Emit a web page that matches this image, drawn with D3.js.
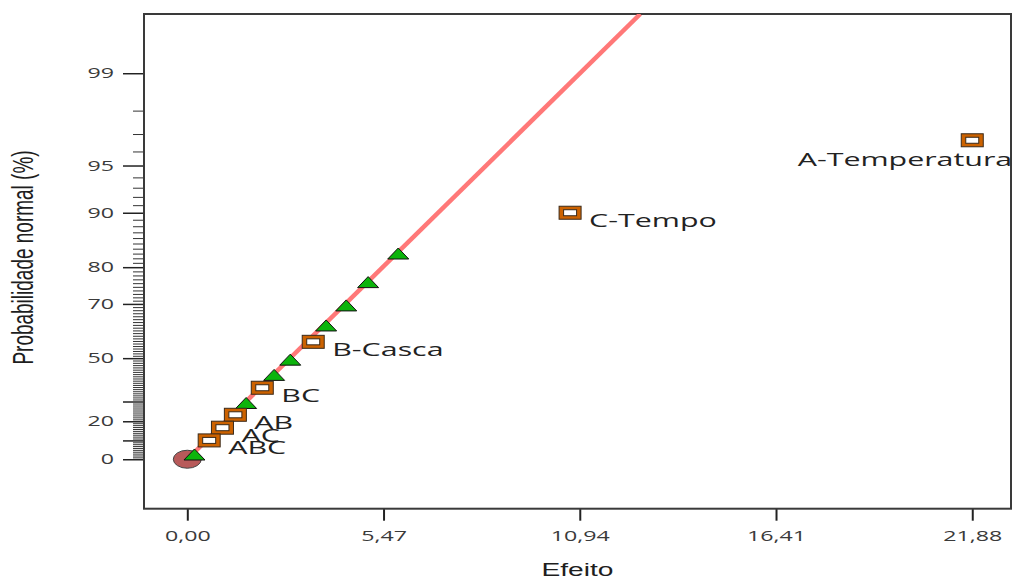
<!DOCTYPE html>
<html>
<head>
<meta charset="utf-8">
<script src="https://cdn.jsdelivr.net/npm/d3@7"></script>
<style>
  html, body { margin: 0; padding: 0; background: #fff; }
  svg { display: block; }
</style>
</head>
<body>
<div id="viz"></div>
<script>
// significant terms (squares with labels): |effect| and half-normal % probability
var termLabels  = ["A-Temperatura", "C-Tempo", "B-Casca", "BC", "AB", "AC", "ABC"];
var termEffects = [21.88, 10.67, 3.51, 2.09, 1.34, 0.98, 0.61];
var termProbs   = [96.67, 90.0, 56.67, 36.67, 23.33, 16.67, 10.0];

// error estimates (green triangles)
var errorEffects = [0.20, 1.64, 2.42, 2.87, 3.87, 4.43, 5.04, 5.88];
var errorProbs   = [3.33, 30.0, 43.33, 50.0, 63.33, 70.0, 76.67, 83.33];

// axis ticks
var xTicks = [0, 5.47, 10.94, 16.41, 21.88];
var yMajorTicks = [0, 10, 20, 30, 50, 70, 80, 90, 95, 99];
var yTickLabels = ["0", "", "20", "", "50", "70", "80", "90", "95", "99"];

// fitted line through the error terms: effect per half-normal score
var fitSlope = 4.25;

var width = 1016, height = 579;
var frame = {left: 144, right: 1011, top: 14, bottom: 508.7};
var SX = 1.6;   // the whole picture is stretched horizontally

// inverse normal cdf (Acklam's approximation)
function qnorm(p) {
  var a = [-3.969683028665376e+01, 2.209460984245205e+02, -2.759285104469687e+02, 1.383577518672690e+02, -3.066479806614716e+01, 2.506628277459239e+00];
  var b = [-5.447609879822406e+01, 1.615858368580409e+02, -1.556989798598866e+02, 6.680131188771972e+01, -1.328068155288572e+01];
  var c = [-7.784894002430293e-03, -3.223964580411365e-01, -2.400758277161838e+00, -2.549732539343734e+00, 4.374664141464968e+00, 2.938163982698783e+00];
  var d = [7.784695709041462e-03, 3.224671290700398e-01, 2.445134137142996e+00, 3.754408661907416e+00];
  var pl = 0.02425, q, r;
  if (p < pl) {
    q = Math.sqrt(-2 * Math.log(p));
    return (((((c[0]*q+c[1])*q+c[2])*q+c[3])*q+c[4])*q+c[5]) / ((((d[0]*q+d[1])*q+d[2])*q+d[3])*q+1);
  }
  if (p <= 1 - pl) {
    q = p - 0.5; r = q * q;
    return (((((a[0]*r+a[1])*r+a[2])*r+a[3])*r+a[4])*r+a[5])*q / (((((b[0]*r+b[1])*r+b[2])*r+b[3])*r+b[4])*r+1);
  }
  q = Math.sqrt(-2 * Math.log(1 - p));
  return -(((((c[0]*q+c[1])*q+c[2])*q+c[3])*q+c[4])*q+c[5]) / ((((d[0]*q+d[1])*q+d[2])*q+d[3])*q+1);
}
// half-normal score for a percentage
function hn(pct) { return qnorm(0.5 + pct / 200); }

var x = d3.scaleLinear().domain([-1.207, 22.96]).range([frame.left, frame.right]);
var y = d3.scaleLinear().domain([-0.33, 2.971]).range([frame.bottom, frame.top]);

var svg = d3.select('#viz').append('svg')
  .attr('width', width).attr('height', height);

svg.append('defs').append('clipPath').attr('id', 'plotclip')
  .append('rect')
  .attr('x', frame.left).attr('y', frame.top)
  .attr('width', frame.right - frame.left).attr('height', frame.bottom - frame.top);

// minor y ticks: every whole percent
var minorProbs = d3.range(1, 99).filter(function(p) { return yMajorTicks.indexOf(p) < 0; });
svg.append('g')
  .attr('transform', 'translate(' + frame.left + ',0)')
  .call(d3.axisLeft(y).tickValues(minorProbs.map(hn)).tickSize(11).tickFormat(''))
  .call(function(g) {
    g.select('.domain').remove();
    g.selectAll('line').attr('stroke', '#333').attr('stroke-width', 1);
  });

// major y ticks
svg.append('g')
  .attr('transform', 'translate(' + frame.left + ',0)')
  .call(d3.axisLeft(y).tickValues(yMajorTicks.map(hn)).tickSize(21)
    .tickFormat(function(d, i) { return yTickLabels[i]; }))
  .call(function(g) {
    g.select('.domain').remove();
    g.selectAll('line').attr('stroke', '#222').attr('stroke-width', 1.5);
    g.selectAll('text')
      .attr('x', 0)
      .attr('transform', 'translate(-30,0) scale(' + SX + ',1)')
      .attr('fill', '#3a3a3a')
      .style('font-family', '"Open Sans", sans-serif')
      .style('font-size', '14.5px');
  });

// x axis
svg.append('g')
  .attr('transform', 'translate(0,' + frame.bottom + ')')
  .call(d3.axisBottom(x).tickValues(xTicks).tickSize(12)
    .tickFormat(function(d) { return d.toFixed(2).replace('.', ','); }))
  .call(function(g) {
    g.select('.domain').remove();
    g.selectAll('line').attr('stroke', '#222').attr('stroke-width', 2);
    g.selectAll('text')
      .attr('y', 0).attr('dy', 0)
      .attr('transform', 'translate(0,32) scale(' + SX + ',1)')
      .attr('fill', '#3a3a3a')
      .style('font-family', '"Open Sans", sans-serif')
      .style('font-size', '14.5px');
  });

// plot frame
svg.append('rect')
  .attr('x', frame.left).attr('y', frame.top)
  .attr('width', frame.right - frame.left).attr('height', frame.bottom - frame.top)
  .attr('fill', 'none').attr('stroke', '#3a3a3a').attr('stroke-width', 2);

// axis titles
svg.append('text')
  .attr('transform', 'translate(' + (frame.left + frame.right) / 2 + ',576) scale(' + SX + ',1)')
  .attr('text-anchor', 'middle')
  .attr('fill', '#1e1e1e')
  .style('font-family', '"Liberation Sans", Arial, sans-serif')
  .style('font-size', '17.6px')
  .text('Efeito');

svg.append('text')
  .attr('transform', 'translate(33,257.5) scale(' + SX + ',1) rotate(-90)')
  .attr('text-anchor', 'middle')
  .attr('fill', '#1e1e1e')
  .style('font-family', '"Liberation Sans", Arial, sans-serif')
  .style('font-size', '19px')
  .text('Probabilidade normal (%)');

var plot = svg.append('g').attr('clip-path', 'url(#plotclip)');

// fitted line from the origin to the top of the plot
var zTop = y.domain()[1];
plot.append('path')
  .datum([0, zTop])
  .attr('d', d3.line()
    .x(function(z) { return x(fitSlope * z); })
    .y(function(z) { return y(z); }))
  .attr('fill', 'none')
  .attr('stroke', '#ff7878')
  .attr('stroke-width', 4.5);

// origin marker
plot.append('ellipse')
  .attr('cx', x(0)).attr('cy', y(hn(0)))
  .attr('rx', 14).attr('ry', 9)
  .attr('fill', '#b85a5a').attr('stroke', '#444').attr('stroke-width', 1);

// error terms
var errors = errorEffects.map(function(e, i) { return {effect: e, prob: errorProbs[i]}; });
plot.selectAll('path.err')
  .data(errors)
  .enter()
  .append('path')
  .attr('class', 'err')
  .attr('transform', function(d) { return 'translate(' + x(d.effect) + ',' + y(hn(d.prob)) + ')'; })
  .attr('d', 'M0,-4L10.5,7L-10.5,7Z')
  .attr('fill', '#0cb40c').attr('stroke', '#111').attr('stroke-width', 1);

// model terms
var terms = termLabels.map(function(t, i) { return {label: t, effect: termEffects[i], prob: termProbs[i]}; });
var termG = svg.selectAll('g.term')
  .data(terms)
  .enter()
  .append('g')
  .attr('class', 'term')
  .attr('transform', function(d) { return 'translate(' + x(d.effect) + ',' + y(hn(d.prob)) + ')'; });

termG.append('rect')
  .attr('x', -11).attr('y', -6.5).attr('width', 22).attr('height', 13)
  .attr('fill', '#cc6200').attr('stroke', '#3a2a1a').attr('stroke-width', 1);
termG.append('rect')
  .attr('x', -6.5).attr('y', -3).attr('width', 13).attr('height', 6)
  .attr('fill', '#fff').attr('stroke', '#3a2a1a').attr('stroke-width', 1);

// labels: to the lower right of the square, or below-left near the right edge
termG.append('text')
  .attr('transform', function(d) {
    var nearEdge = x(d.effect) + 200 > frame.right;
    return nearEdge ? 'translate(40,26) scale(' + SX + ',1)' : 'translate(19,14) scale(' + SX + ',1)';
  })
  .attr('text-anchor', function(d) { return x(d.effect) + 200 > frame.right ? 'end' : 'start'; })
  .attr('fill', '#222')
  .style('font-family', '"Open Sans", sans-serif')
  .style('font-size', '19px')
  .text(function(d) { return d.label; });
</script>
</body>
</html>
